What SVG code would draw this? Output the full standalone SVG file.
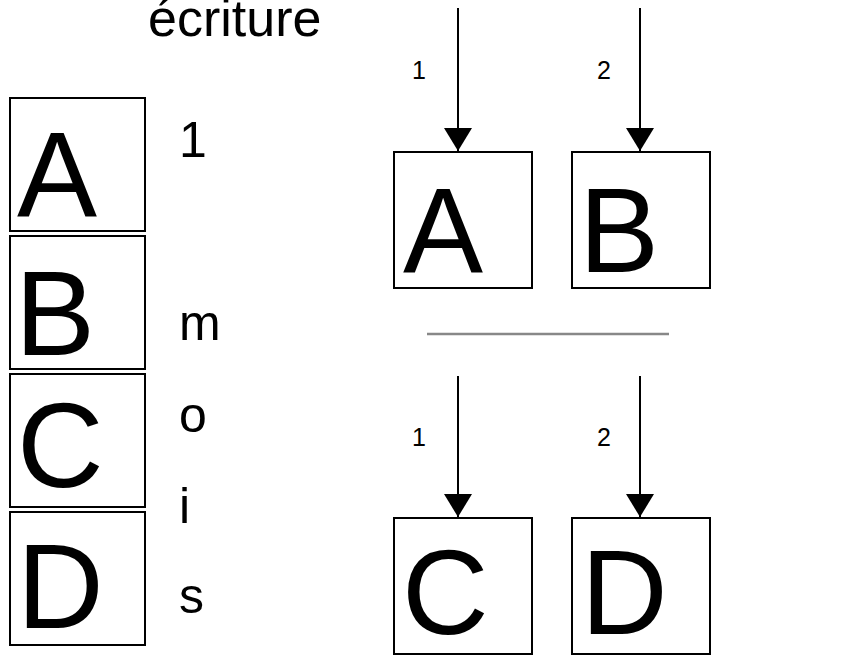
<svg xmlns="http://www.w3.org/2000/svg" width="864" height="655" viewBox="0 0 864 655">
<defs>
<style>
.box{fill:#fff;stroke:#000;stroke-width:2}
.big{font-family:"Liberation Sans",Arial,sans-serif;font-size:120px;fill:#000}
.txt{font-family:"Liberation Sans",Arial,sans-serif;font-size:50px;fill:#000}
.lbl{font-family:"Liberation Sans",Arial,sans-serif;font-size:25px;fill:#000}
.conn{stroke:#000;stroke-width:2;fill:none}
</style>
<marker id="ah" markerUnits="userSpaceOnUse" markerWidth="24" markerHeight="28" viewBox="0 0 24 28" refX="23" refY="14" orient="auto">
<path d="M0,0 L23,14 L0,28 Z" fill="#000"/>
</marker>
</defs>
<rect width="864" height="655" fill="#fff"/>
<text class="txt" x="148" y="36" style="font-size:52px">écriture</text>
<g id="stackA"><rect class="box" x="10" y="98" width="135" height="133"/><text class="big" x="17" y="216">A</text></g>
<g id="stackB"><rect class="box" x="10" y="236" width="135" height="133"/><text class="big" x="15" y="355">B</text></g>
<g id="stackC"><rect class="box" x="10" y="374" width="135" height="133"/><text class="big" x="17" y="487">C</text></g>
<g id="stackD"><rect class="box" x="10" y="512" width="135" height="133"/><text class="big" x="17" y="628">D</text></g>
<g id="label-1mois">
<text class="txt" x="179" y="157">1</text>
<text class="txt" x="179" y="340">m</text>
<text class="txt" x="179" y="432">o</text>
<text class="txt" x="179" y="523">i</text>
<text class="txt" x="179" y="613">s</text>
</g>
<g id="nodeA"><rect class="box" x="394" y="152" width="138" height="136"/><text class="big" x="403" y="272">A</text></g>
<g id="nodeB"><rect class="box" x="572" y="152" width="138" height="136"/><text class="big" x="579" y="272">B</text></g>
<g id="nodeC"><rect class="box" x="394" y="518" width="138" height="136"/><text class="big" x="402" y="634">C</text></g>
<g id="nodeD"><rect class="box" x="572" y="518" width="138" height="136"/><text class="big" x="581" y="634">D</text></g>
<g id="separator"><line x1="427" y1="334" x2="669" y2="334" stroke="#888" stroke-width="2.5"/></g>
<g id="connectors">
<line class="conn" x1="458" y1="8" x2="458" y2="151" marker-end="url(#ah)"/>
<line class="conn" x1="640" y1="8" x2="640" y2="151" marker-end="url(#ah)"/>
<line class="conn" x1="458" y1="376" x2="458" y2="517" marker-end="url(#ah)"/>
<line class="conn" x1="640" y1="376" x2="640" y2="517" marker-end="url(#ah)"/>
<text class="lbl" x="412" y="79">1</text>
<text class="lbl" x="597" y="79">2</text>
<text class="lbl" x="412" y="446">1</text>
<text class="lbl" x="597" y="446">2</text>
</g>
</svg>
